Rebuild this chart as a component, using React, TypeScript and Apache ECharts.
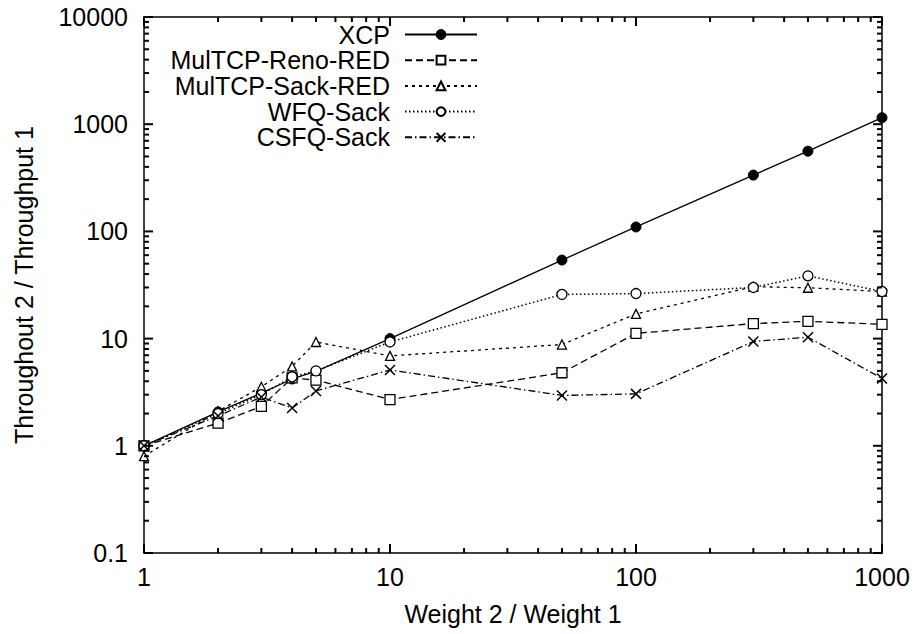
import React, { useEffect, useRef } from "react";
import * as echarts from "echarts";

const weights = [1, 2, 3, 4, 5, 10, 50, 100, 300, 500, 1000];
const xcp = [1.0, 2.07, 3.1, 4.2, 4.95, 10.0, 54, 110, 335, 560, 1150];
const renoRed = [1.0, 1.63, 2.33, 4.3, 4.1, 2.7, 4.8, 11.2, 13.8, 14.5, 13.6];
const sackRed = [0.8, 2.1, 3.55, 5.5, 9.3, 6.9, 8.8, 17, 30.5, 29.8, 27.5];
const wfqSack = [1.0, 2.0, 3.0, 4.4, 5.0, 9.3, 25.8, 26.3, 30, 38.5, 27.5];
const csfqSack = [1.0, 1.9, 2.85, 2.25, 3.25, 5.1, 2.95, 3.05, 9.4, 10.3, 4.25];

const seriesNames = ["XCP", "MulTCP-Reno-RED", "MulTCP-Sack-RED", "WFQ-Sack", "CSFQ-Sack"];

// axis tick positions (decades + 2..9 minor ticks)
const xMajor = [1, 10, 100, 1000];
const yMajor = [0.1, 1, 10, 100, 1000, 10000];
const minorMultipliers = [2, 3, 4, 5, 6, 7, 8, 9];

const FONT = "Liberation Sans";
const FS = 25;
const MAJOR_LEN = 9;
const MINOR_LEN = 5;

export default function App() {
  const ref = useRef<HTMLDivElement>(null);
  useEffect(() => {
    if (!ref.current) return;
    const chart = echarts.init(ref.current, null, { renderer: "svg" });

    const mk = (data: number[]) => weights.map((w, i) => [w, data[i]]);
    const fmt = (v: number) => String(v);

    const buildTicks = (major: number[]) => {
      const out: number[][] = major.map((v) => [v, MAJOR_LEN]);
      major.slice(0, -1).forEach((d) => minorMultipliers.forEach((m) => out.push([d * m, MINOR_LEN])));
      return out;
    };
    const xTicks = buildTicks(xMajor);
    const yTicks = buildTicks(yMajor);

    const axisLine = () => ({ show: true, onZero: false, lineStyle: { color: "#000", width: 1.5 } });

    const lineSeries = [
      { name: seriesNames[0], data: mk(xcp), symbol: "circle", symbolSize: 10,
        itemStyle: { color: "#000", borderColor: "#000", borderWidth: 1 },
        lineStyle: { color: "#000", width: 1.3, type: "solid" } },
      { name: seriesNames[1], data: mk(renoRed), symbol: "rect", symbolSize: 10,
        itemStyle: { color: "#fff", borderColor: "#000", borderWidth: 1.3 },
        lineStyle: { color: "#000", width: 1.3, type: [7, 4] } },
      { name: seriesNames[2], data: mk(sackRed), symbol: "triangle", symbolSize: 9,
        itemStyle: { color: "#fff", borderColor: "#000", borderWidth: 1.3 },
        lineStyle: { color: "#000", width: 1.3, type: [3, 4] } },
      { name: seriesNames[3], data: mk(wfqSack), symbol: "circle", symbolSize: 10,
        itemStyle: { color: "#fff", borderColor: "#000", borderWidth: 1.3 },
        lineStyle: { color: "#000", width: 1.5, type: [1.5, 2.5] } },
      { name: seriesNames[4], data: mk(csfqSack), symbol: "path://M0,0L10,10M10,0L0,10", symbolSize: 10,
        itemStyle: { color: "#000", borderColor: "#000", borderWidth: 1.5 },
        lineStyle: { color: "#000", width: 1.3, type: [7, 3, 1.5, 3] } },
    ].map((s) => ({ type: "line", xAxisIndex: 0, yAxisIndex: 0, showSymbol: true, clip: false, z: 3, ...s }));

    const legends = seriesNames.map((n, i) => ({
      data: [n], orient: "horizontal", right: 436, top: 22 + i * 25.7, align: "right",
      itemWidth: 72, itemHeight: 11, selectedMode: false, padding: 0,
      textStyle: { fontSize: FS, fontFamily: FONT, color: "#000", padding: [0, 10, 0, 0] },
    }));

    const option: any = {
      animation: false,
      backgroundColor: "#fff",
      grid: { left: 144, right: 32, top: 17, bottom: 81, containLabel: false },
      legend: legends,
      xAxis: [
        {
          type: "log", logBase: 10, min: 1, max: 1000, position: "bottom",
          name: "Weight 2 / Weight 1", nameLocation: "middle", nameGap: 48,
          nameTextStyle: { fontSize: FS, fontFamily: FONT, color: "#000" },
          axisLine: axisLine(), axisTick: { show: false }, minorTick: { show: false },
          axisLabel: { fontSize: FS, fontFamily: FONT, color: "#000", margin: 11, formatter: fmt },
          splitLine: { show: false },
        },
        {
          type: "log", logBase: 10, min: 1, max: 1000, position: "top",
          axisLine: axisLine(), axisTick: { show: false }, minorTick: { show: false },
          axisLabel: { show: false }, splitLine: { show: false },
        },
      ],
      yAxis: [
        {
          type: "log", logBase: 10, min: 0.1, max: 10000, position: "left",
          name: "Throughout 2 / Throughput 1", nameLocation: "middle", nameGap: 108,
          nameTextStyle: { fontSize: FS, fontFamily: FONT, color: "#000" },
          axisLine: axisLine(), axisTick: { show: false }, minorTick: { show: false },
          axisLabel: { fontSize: FS, fontFamily: FONT, color: "#000", margin: 16, formatter: fmt },
          splitLine: { show: false },
        },
        {
          type: "log", logBase: 10, min: 0.1, max: 10000, position: "right",
          axisLine: axisLine(), axisTick: { show: false }, minorTick: { show: false },
          axisLabel: { show: false }, splitLine: { show: false },
        },
      ],
      series: lineSeries,
    };

    chart.setOption(option);

    // Tick marks placed through the chart's own axis scales
    const px = (v: number) => chart.convertToPixel({ xAxisIndex: 0 }, v) as number;
    const py = (v: number) => chart.convertToPixel({ yAxisIndex: 0 }, v) as number;
    const left = px(xMajor[0]);
    const right = px(xMajor[xMajor.length - 1]);
    const bottom = py(yMajor[0]);
    const top = py(yMajor[yMajor.length - 1]);
    const tickStyle = { stroke: "#000", lineWidth: 2 };
    const elements: any[] = [];
    if ([left, right, bottom, top].every((n) => Number.isFinite(n))) {
      xTicks.forEach(([v, len]) => {
        const x = px(v);
        elements.push({ type: "line", silent: true, z: 100, shape: { x1: x, y1: bottom, x2: x, y2: bottom - len }, style: { ...tickStyle } });
        elements.push({ type: "line", silent: true, z: 100, shape: { x1: x, y1: top, x2: x, y2: top + len }, style: { ...tickStyle } });
      });
      yTicks.forEach(([v, len]) => {
        const y = py(v);
        elements.push({ type: "line", silent: true, z: 100, shape: { x1: left, y1: y, x2: left + len, y2: y }, style: { ...tickStyle } });
        elements.push({ type: "line", silent: true, z: 100, shape: { x1: right, y1: y, x2: right - len, y2: y }, style: { ...tickStyle } });
      });
      chart.setOption({ graphic: elements });
    }

    return () => chart.dispose();
  }, []);

  return (
    <div ref={ref} style={{ position: "fixed", left: 0, top: 0, width: 914, height: 634, background: "#fff" }} />
  );
}
